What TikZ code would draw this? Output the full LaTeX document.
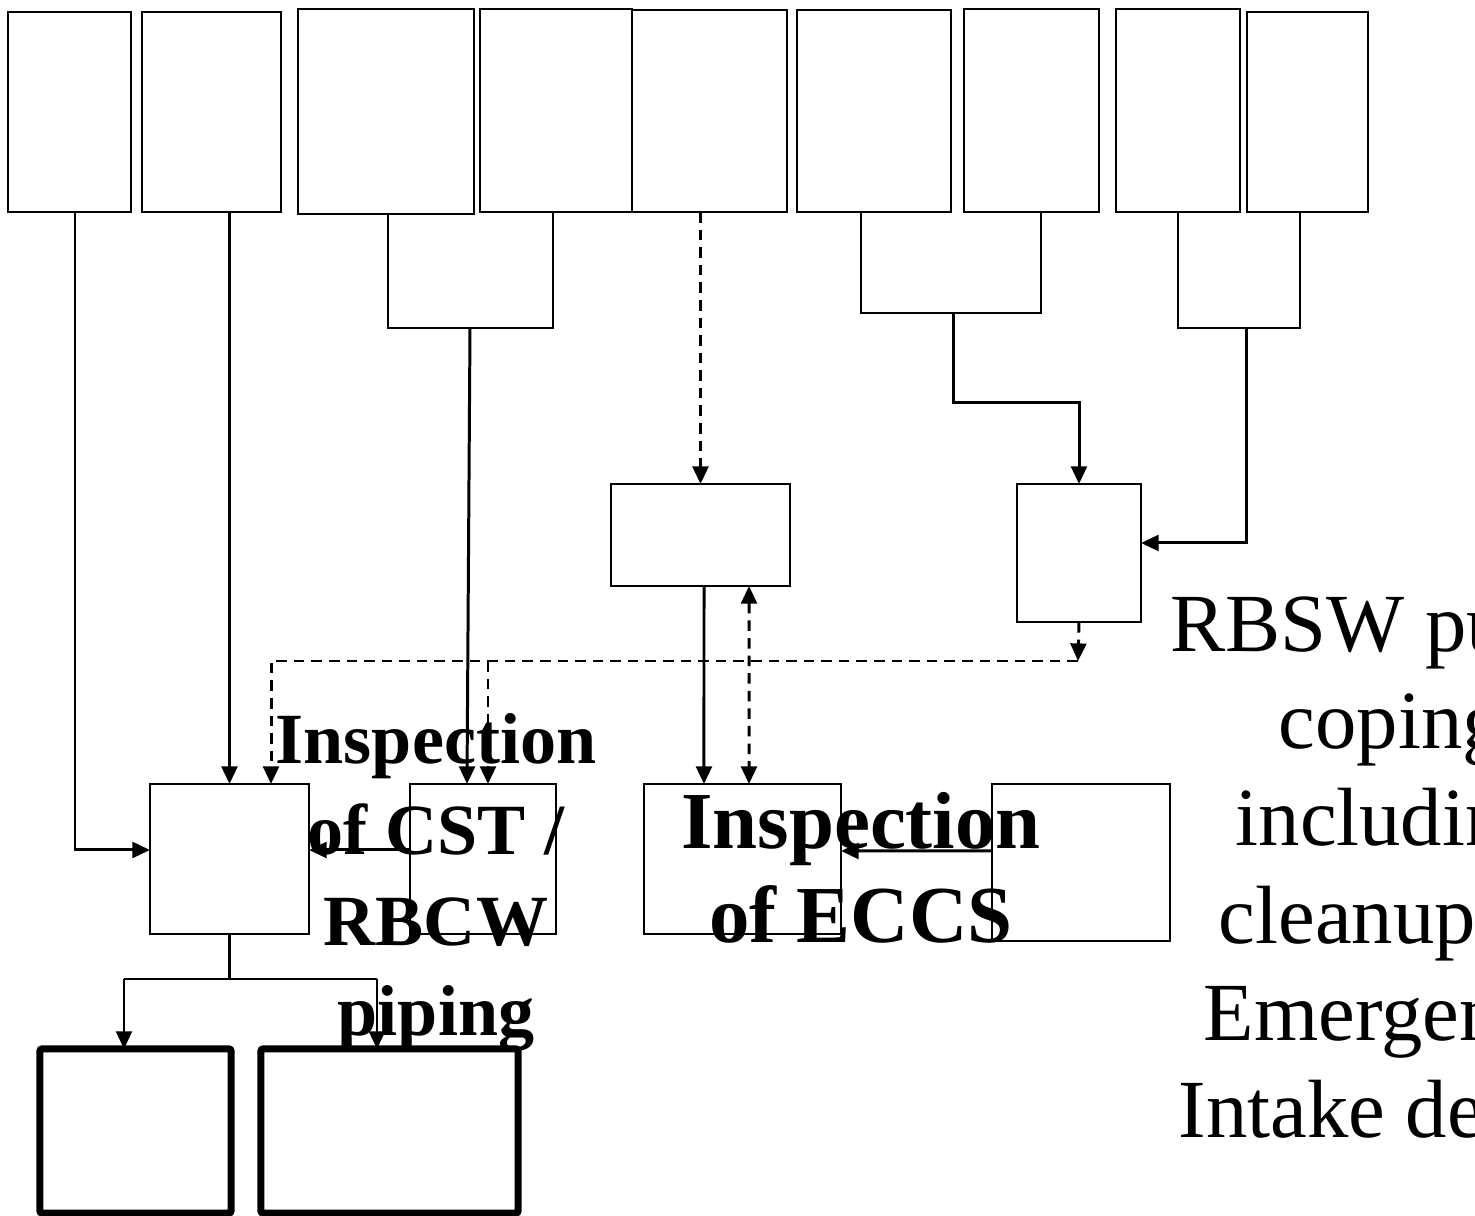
\documentclass[tikz,border=0pt]{standalone}
\usepackage{fontspec}
\setmainfont{Liberation Serif}
\usetikzlibrary{arrows.meta,positioning,calc}

\begin{document}
\begin{tikzpicture}[x=0.01cm, y=-0.01cm,
  box/.style={draw, line width=0.65pt, inner sep=0pt, outer sep=0pt},
  heavybox/.style={draw, line width=2pt, rounded corners=0.6pt, inner sep=0pt, outer sep=0pt},
  link/.style={line width=0.6pt},
  arr/.style={-{Triangle[length=5pt, width=4.5pt]}, line width=0.85pt},
  darr/.style={arr, dash pattern=on 3pt off 2pt},
  dboth/.style={{Triangle[length=5pt, width=4.5pt]}-{Triangle[length=5pt, width=4.5pt]},
                line width=0.85pt, dash pattern=on 3pt off 2pt},
  insp/.style={font=\fontsize{20.5}{25.8}\selectfont\bfseries, align=center, inner sep=0pt},
  note/.style={font=\fontsize{23.5}{27}\selectfont, inner sep=0pt, anchor=base west}]

  \useasboundingbox (0,0) rectangle (1475,1216);

  % top row
  \node[box, minimum width=1.23cm, minimum height=2cm]    (b1) at (69.5,112) {};
  \node[box, minimum width=1.39cm, minimum height=2cm]    (b2) at (211.5,112) {};
  \node[box, minimum width=1.76cm, minimum height=2.05cm] (b3) at (386,111.5) {};
  \node[box, minimum width=1.52cm, minimum height=2.03cm] (b4) at (556,110.5) {};
  \node[box, minimum width=1.55cm, minimum height=2.02cm] (b5) at (709.5,111) {};
  \node[box, minimum width=1.54cm, minimum height=2.02cm] (b6) at (874,111) {};
  \node[box, minimum width=1.35cm, minimum height=2.03cm] (b7) at (1031.5,110.5) {};
  \node[box, minimum width=1.24cm, minimum height=2.03cm] (b8) at (1178,110.5) {};
  \node[box, minimum width=1.21cm, minimum height=2cm]    (b9) at (1307.5,112) {};

  % middle
  \node[box, minimum width=1.79cm, minimum height=1.02cm] (C) at (700.5,535) {};
  \node[box, minimum width=1.24cm, minimum height=1.38cm] (D) at (1079,553) {};

  % lower row
  \node[box, minimum width=1.59cm, minimum height=1.5cm]  (A) at (229.5,859) {};
  \node[box, minimum width=1.46cm, minimum height=1.5cm]  (B) at (483,859) {};
  \node[box, minimum width=1.97cm, minimum height=1.5cm]  (E) at (742.5,859) {};
  \node[box, minimum width=1.78cm, minimum height=1.57cm] (F) at (1081,862.5) {};
  \node[heavybox, minimum width=1.91cm, minimum height=1.64cm] (G) at (135.5,1131) {};
  \node[heavybox, minimum width=2.57cm, minimum height=1.64cm] (H) at (389.5,1131) {};

  % connectors
  \draw[arr] ([xshift=0.055cm]b1.south) |- ([yshift=0.09cm]A.west);
  \draw[arr] (b2.south -| A.north) -- (A.north);

  \coordinate (j34) at (470,328);
  \draw[link] ([xshift=0.02cm]b3.south) |- (j34) -| ([xshift=-0.03cm]b4.south);
  \draw[arr] (j34) -- ([xshift=-0.16cm]B.north);

  \draw[darr] (b5.south -| C.north) -- (C.north);

  \coordinate (j67) at (953,313);
  \draw[link] ([xshift=-0.13cm]b6.south) |- (j67) -| ([xshift=0.095cm]b7.south);
  \draw[arr] (j67) -- ++(0,90) -| (D.north);

  \coordinate (j89) at (1246,328);
  \draw[link] (b8.south) |- (j89) -| ([xshift=-0.075cm]b9.south);
  \draw[arr] (j89) |- ([yshift=0.1cm]D.east);

  \coordinate (k1) at (1078,661);
  \coordinate (k2) at (488,661);
  \draw[darr] (D.south) -- (k1);
  \draw[darr] (k1) -| ([xshift=0.415cm]A.north);
  \draw[darr] (k2) -- (k2 |- B.north);

  \draw[arr] ([xshift=0.035cm]C.south) -- ([xshift=-0.385cm]E.north);
  \draw[dboth] ([xshift=0.485cm]C.south) -- ([xshift=0.065cm]E.north);

  \draw[arr] ([yshift=0.09cm]B.west) -- ([yshift=0.09cm]A.east);
  \draw[arr] ([yshift=0.115cm]F.west) -- ([yshift=0.08cm]E.east);

  \coordinate (jG) at (124,979);
  \coordinate (jH) at (377,979);
  \draw[link] (A.south) -- (A.south |- jG);
  \draw[link] (jG) -- (jH);
  \draw[arr] (jG) -- (jG |- G.north);
  \draw[arr] (jH) -- (jH |- H.north);

  % labels
  \node[insp, anchor=north] (cst) at (436,713) {Inspection\\of CST /\\RBCW\\piping};
  \node[insp, anchor=north, font=\fontsize{23}{26.7}\selectfont\bfseries] (eccs) at (861,792)
    {Inspection\\of ECCS};

  \foreach \tx/\ty/\words [count=\i] in {1170/652/RBSW pu, 1278/749/coping,
      1235/846/includin, 1218/944/cleanup, 1203/1041/Emergen, 1178/1138/Intake de}
    \node[note] (rbsw\i) at (\tx,\ty) {\words};
\end{tikzpicture}
\end{document}
